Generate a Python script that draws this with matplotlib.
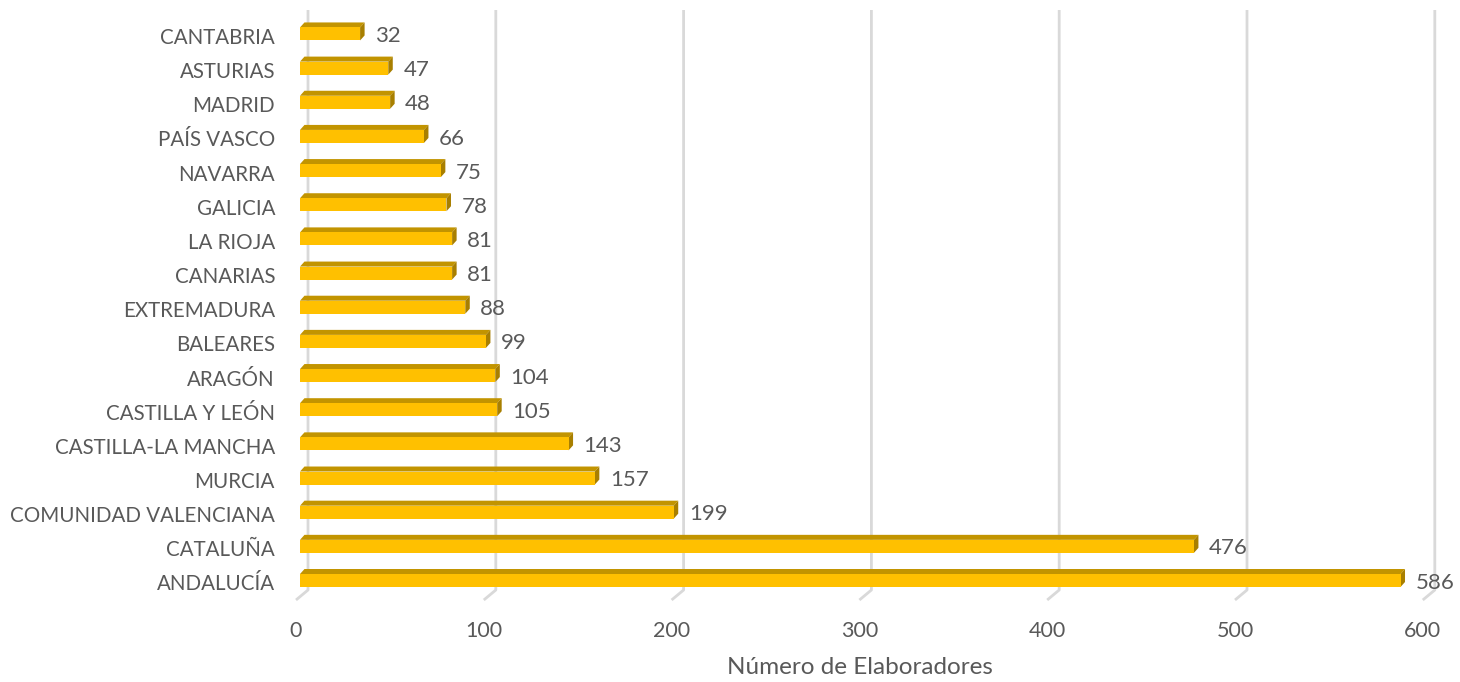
import matplotlib
matplotlib.use("Agg")
import matplotlib.pyplot as plt
from matplotlib.patches import Polygon
from matplotlib.transforms import ScaledTranslation

regions = ["ANDALUCÍA", "CATALUÑA", "COMUNIDAD VALENCIANA", "MURCIA",
           "CASTILLA-LA MANCHA", "CASTILLA Y LEÓN", "ARAGÓN", "BALEARES",
           "EXTREMADURA", "CANARIAS", "LA RIOJA", "GALICIA", "NAVARRA",
           "PAÍS VASCO", "MADRID", "ASTURIAS", "CANTABRIA"]
values = [586, 476, 199, 157, 143, 105, 104, 99, 88, 81, 81, 78, 75, 66, 48, 47, 32]
xticks = [0, 100, 200, 300, 400, 500, 600]
xlabel = "Número de Elaboradores"

plt.rcParams['font.family'] = ['Lato', 'DejaVu Sans']
TXT = '#595959'
FRONT = '#FFC000'
TOP = '#C29400'
SIDE = '#A87F00'
GRID = '#D9D9D9'

W, H = 1460, 682
fig = plt.figure(figsize=(W / 100, H / 100), dpi=100)

ppu = 1.878      # pixels per value unit
ppc = 34.16      # pixels per category
x0_px = 300.0    # front zero
xmin, xmax = -10, 615
ax_left = x0_px + xmin * ppu
ax_w = (xmax - xmin) * ppu
ax_top_px, ax_bot_px = 10, 600
ax_h = ax_bot_px - ax_top_px
y0_off = 19.5
ylo = -y0_off / ppc
yhi = (ax_h - y0_off) / ppc

ax = fig.add_axes([ax_left / W, (H - ax_bot_px) / H, ax_w / W, ax_h / H])
ax.set_xlim(xmin, xmax)
ax.set_ylim(ylo, yhi)
for s in ax.spines.values():
    s.set_visible(False)

# gridlines (back plane with diagonal to front floor)
gdx = 8 / ppu
gdx2 = 12 / ppu
gdy = 10 / ppc
for v in xticks:
    ax.plot([v + gdx, v + gdx, v + gdx - gdx2], [yhi, ylo + gdy, ylo],
            color=GRID, lw=2, zorder=1, clip_on=False, solid_capstyle='butt')

# bars with 3D effect
bh = 13 / ppc
ddx = 4.5 / ppu
ddy = 5 / ppc
for i, v in enumerate(values):
    yb = i - bh / 2
    yt = i + bh / 2
    top = Polygon([(0, yt), (ddx, yt + ddy), (v + ddx, yt + ddy), (v, yt)],
                  closed=True, facecolor=TOP, edgecolor='none', zorder=3)
    side = Polygon([(v, yb), (v, yt), (v + ddx, yt + ddy), (v + ddx, yb + ddy)],
                   closed=True, facecolor=SIDE, edgecolor='none', zorder=3)
    ax.add_patch(top)
    ax.add_patch(side)
    ax.barh(i, v, height=bh, color=FRONT, zorder=4, linewidth=0)
    ax.annotate(str(v), xy=(v, i), xytext=(15 * 0.72, -1.5), textcoords='offset points',
                va='center', ha='left', fontsize=16, color=TXT, zorder=5)

ax.set_yticks(range(len(regions)))
ax.set_yticklabels(regions)
ax.set_xticks(xticks)
ax.set_xticklabels([str(t) for t in xticks])
ax.tick_params(axis='y', length=0, pad=(ax_left - 275) * 0.72, labelsize=14.8, labelcolor=TXT)
ax.tick_params(axis='x', length=0, pad=15, labelsize=15.5, labelcolor=TXT)
for lab in ax.get_xticklabels():
    lab.set_transform(lab.get_transform() + ScaledTranslation(-4 / 100, 0, fig.dpi_scale_trans))
for lab in ax.get_yticklabels():
    lab.set_transform(lab.get_transform() + ScaledTranslation(0, -2 / 100, fig.dpi_scale_trans))
ax.set_xlabel(xlabel, fontsize=17.5, color=TXT)
ax.xaxis.set_label_coords((860 - ax_left) / ax_w, -(668 - ax_bot_px) / ax_h)
ax.xaxis.label.set_va('center')

fig.savefig("out.png", dpi=100)
